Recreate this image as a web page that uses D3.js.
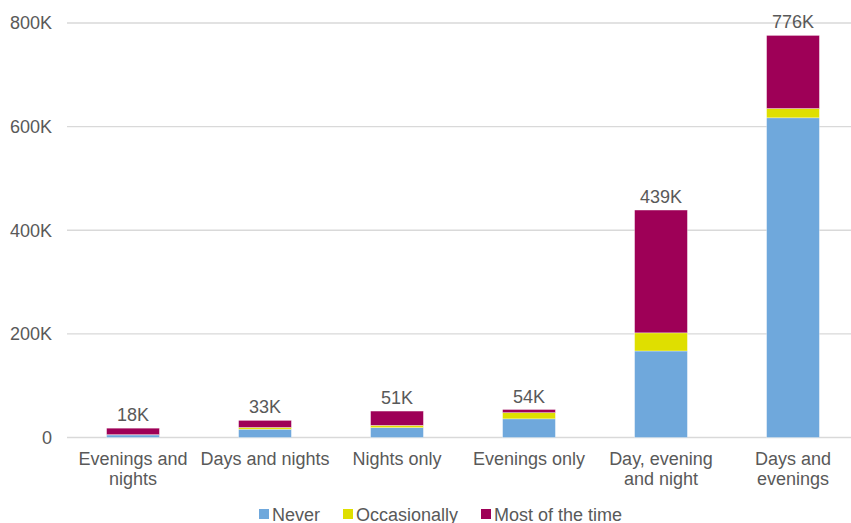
<!DOCTYPE html>
<html>
<head>
<meta charset="utf-8">
<script src="https://cdn.jsdelivr.net/npm/d3@7"></script>
<style>
  html, body { margin: 0; padding: 0; background: #fff; }
  svg { display: block; font-family: "Liberation Sans", Arial, sans-serif; }
</style>
</head>
<body>
<svg id="chart" width="851" height="523"></svg>
<script>
// Working pattern by shift type, number of workers
const categories = ["Evenings and\nnights", "Days and nights", "Nights only", "Evenings only", "Day, evening\nand night", "Days and\nevenings"];
const never        = [5000, 16000, 19000, 36000, 167000, 617000];
const occasionally = [500, 3500, 4500, 12000, 35000, 18000];
const mostOfTime   = [12500, 13500, 27500, 6000, 237000, 141000];
const totalLabels  = ["18K", "33K", "51K", "54K", "439K", "776K"];
const seriesNames  = ["Never", "Occasionally", "Most of the time"];
const seriesColors = ["#6FA8DC", "#DFDF00", "#9E0057"];
const yTicks = [0, 200000, 400000, 600000, 800000];
const yTickLabels = ["0", "200K", "400K", "600K", "800K"];

const svg = d3.select("#chart");
const W = 851;
const plot = { left: 67, right: 859, top: 23, bottom: 437.5 };

const rows = categories.map((c, i) => ({
  cat: c, Never: never[i], Occasionally: occasionally[i], "Most of the time": mostOfTime[i], label: totalLabels[i]
}));

const x = d3.scaleBand().domain(categories).range([plot.left, plot.right]).paddingInner(0.6).paddingOuter(0.3);
const y = d3.scaleLinear().domain([0, 800000]).range([plot.bottom, plot.top]);

// gridlines
svg.append("g").selectAll("line").data(yTicks).join("line")
  .attr("x1", plot.left).attr("x2", W)
  .attr("y1", d => y(d)).attr("y2", d => y(d))
  .attr("stroke", "#d9d9d9").attr("stroke-width", 1.3);

// y axis labels
const yAxis = d3.axisLeft(y).tickValues(yTicks).tickFormat((d, i) => yTickLabels[i]).tickSize(0).tickPadding(15);
const ya = svg.append("g").attr("transform", `translate(${plot.left},0)`).call(yAxis);
ya.select(".domain").remove();
ya.selectAll("text").attr("font-size", 18).attr("fill", "#595959")
  .attr("font-family", "Liberation Sans, Arial, sans-serif");

// stacked bars
const stack = d3.stack().keys(seriesNames)(rows);
svg.append("g").selectAll("g").data(stack).join("g")
  .attr("fill", (d, i) => seriesColors[i])
  .selectAll("rect").data(d => d).join("rect")
  .attr("x", d => x(d.data.cat))
  .attr("width", x.bandwidth())
  .attr("y", d => y(d[1]))
  .attr("height", d => y(d[0]) - y(d[1]))
  .attr("stroke", "rgba(255,255,255,0.55)").attr("stroke-width", 0.6);

// total labels
svg.append("g").selectAll("text").data(rows).join("text")
  .attr("x", d => x(d.cat) + x.bandwidth() / 2)
  .attr("y", d => y(d.Never + d.Occasionally + d["Most of the time"]) - 7)
  .attr("text-anchor", "middle")
  .attr("font-size", 18).attr("fill", "#595959")
  .text(d => d.label);

// category labels
const xl = svg.append("g").selectAll("text").data(categories).join("text")
  .attr("text-anchor", "middle")
  .attr("font-size", 18).attr("fill", "#595959")
  .attr("x", d => x(d) + x.bandwidth() / 2)
  .attr("y", 465);
xl.selectAll("tspan").data(d => d.split("\n")).join("tspan")
  .attr("x", function () { return d3.select(this.parentNode).attr("x"); })
  .attr("dy", (d, i) => i === 0 ? 0 : 20)
  .text(d => d);

// legend
const legendX = [259, 343, 481];
const lg = svg.append("g").selectAll("g").data(seriesNames).join("g")
  .attr("transform", (d, i) => `translate(${legendX[i]},509)`);
lg.append("rect").attr("width", 10).attr("height", 10).attr("fill", (d, i) => seriesColors[i]);
lg.append("text").attr("x", 13).attr("y", 11.5)
  .attr("font-size", 18).attr("fill", "#595959").text(d => d);
</script>
</body>
</html>
